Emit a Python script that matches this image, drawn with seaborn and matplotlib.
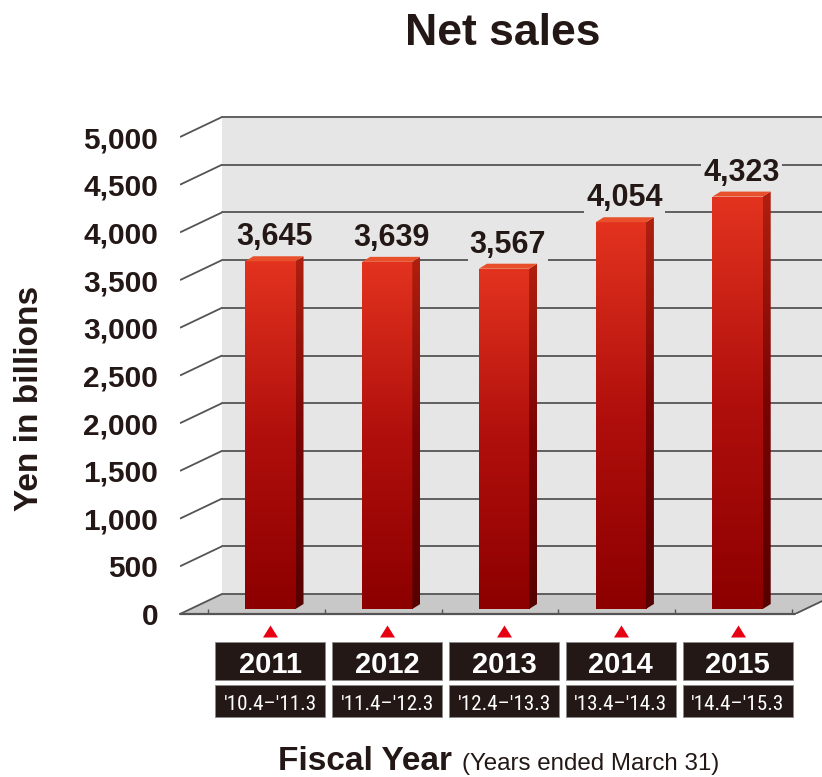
import numpy as np
import pandas as pd
import matplotlib
matplotlib.use("Agg")
import matplotlib.pyplot as plt
import matplotlib.transforms as mtransforms
from matplotlib import font_manager
from matplotlib.patches import Polygon, Rectangle
from matplotlib.colors import LinearSegmentedColormap
import seaborn as sns

# ---------------- data ----------------
years = ["2011", "2012", "2013", "2014", "2015"]
periods = ["'10.4–'11.3", "'11.4–'12.3", "'12.4–'13.3", "'13.4–'14.3", "'14.4–'15.3"]
net_sales = [3645, 3639, 3567, 4054, 4323]
y_ticks = [0, 500, 1000, 1500, 2000, 2500, 3000, 3500, 4000, 4500, 5000]
title_text = "Net sales"
ylabel_text = "Yen in billions"
xlabel_main = "Fiscal Year"
xlabel_sub = "(Years ended March 31)"

# ---------------- style ----------------
sns.set_theme(style="white")
plt.rcParams["font.family"] = ["Liberation Sans", "DejaVu Sans"]
TXT = "#231815"
WALL = "#e6e6e6"
FLOOR = "#c8c8c8"
LINE = "#555353"

names = {f.name for f in font_manager.fontManager.ttflist}
narrow = None
for cand in ["Liberation Sans Narrow", "Roboto Condensed", "Open Sans Condensed",
             "Noto Sans Condensed", "DejaVu Sans Condensed"]:
    if cand in names:
        narrow = cand
        break
period_family = [narrow, "Liberation Sans", "DejaVu Sans"] if narrow else ["Liberation Sans", "DejaVu Sans"]

W, H = 822, 777
fig = plt.figure(figsize=(W / 100, H / 100), dpi=100)
fig.patch.set_facecolor("white")


def fx(px):
    return px / W


def fy(py):
    return 1 - py / H


ax = fig.add_axes([fx(180), fy(614), fx(822) - fx(180), (614 - 90) / H])
ax.set_facecolor("none")

df = pd.DataFrame({"year": years, "sales": net_sales})
sns.barplot(data=df, x="year", y="sales", width=0.43, color="#c00000", ax=ax,
            saturation=1, zorder=3)

SX = 116.8
SY = (614 - 137) / 5000.0
XL = -0.5 - (208 - 180) / SX
XR = -0.5 + (822 - 208) / SX
XFR = -0.5 + (795 - 208) / SX
ax.set_xlim(XL, XR)
ax.set_ylim(0, (614 - 90) / SY)
ax.set_autoscale_on(False)


def d(px, py):
    return px / SX, py / SY


Dx, Dy = d(42, 20)
bx, by = d(4, 5)
ddx, ddy = d(8, 5)

ax.add_patch(Rectangle((XL + Dx, Dy), XR - (XL + Dx), y_ticks[-1], fc=WALL, ec="none", zorder=0))
ax.add_patch(Polygon([(XL, 0), (XFR, 0), (XFR + Dx, Dy), (XL + Dx, Dy)], closed=True,
                     fc=FLOOR, ec="none", zorder=0.5))
for v in y_ticks:
    ax.plot([XL, XL + Dx], [v, v + Dy], color=LINE, lw=1.3, zorder=1, solid_capstyle="butt")
    ax.plot([XL + Dx, XR], [v + Dy, v + Dy], color=LINE, lw=1.3, zorder=1)
ax.plot([XL, XFR], [0, 0], color=LINE, lw=1.6, zorder=1.5, clip_on=False)
ax.plot([XFR, XFR + Dx], [0, Dy], color=LINE, lw=1.3, zorder=1.5)

ax.set_xticks([])
ax.set_xticks(np.arange(-0.5, len(years), 1.0), minor=True)
ax.tick_params(axis="x", which="minor", direction="in", length=3.5, width=1, color=LINE, bottom=True)
ax.set_xlabel("")
ax.set_ylabel("")
for s in ax.spines.values():
    s.set_visible(False)

ax.set_yticks(y_ticks)
ax.set_yticklabels([f"{v:,}" for v in y_ticks], fontsize=21.5, fontweight="bold", color=TXT)
ax.tick_params(axis="y", length=0, pad=15.8)

front_cmap = LinearSegmentedColormap.from_list("front", ["#8c0000", "#b00f0c", "#e3331f"])
side_cmap = LinearSegmentedColormap.from_list("side", ["#560000", "#7a0404", "#b0200f"])
grad = np.linspace(0, 1, 256).reshape(-1, 1)

bars = [p for p in ax.patches if isinstance(p, Rectangle) and p.get_width() < 1][:len(years)]
for i, p in enumerate(bars):
    p.set_x(p.get_x() + bx)
    p.set_y(by)
    x0 = p.get_x()
    x1 = x0 + p.get_width()
    y0 = by
    y1 = by + p.get_height()
    p.set_facecolor("none")
    p.set_edgecolor("none")
    im = ax.imshow(grad, extent=(x0, x1, y0, y1), origin="lower", aspect="auto",
                   cmap=front_cmap, zorder=3, interpolation="bilinear")
    im.set_clip_path(p)
    side = Polygon([(x1, y0), (x1 + ddx, y0 + ddy), (x1 + ddx, y1 + ddy), (x1, y1)], closed=True,
                   fc="none", ec="none", zorder=3)
    ax.add_patch(side)
    im2 = ax.imshow(grad, extent=(x1, x1 + ddx, y0, y1 + ddy), origin="lower", aspect="auto",
                    cmap=side_cmap, zorder=3, interpolation="bilinear")
    im2.set_clip_path(side)
    ax.add_patch(Polygon([(x0, y1), (x1, y1), (x1 + ddx, y1 + ddy), (x0 + ddx, y1 + ddy)],
                         closed=True, fc="#e8502c", ec="none", zorder=3.2))
    ax.text((x0 + x1 + ddx) / 2, y1 + ddy + d(0, 11)[1], f"{net_sales[i]:,}",
            ha="center", va="baseline", fontsize=22, fontweight="bold", color=TXT, zorder=4,
            bbox=dict(fc=WALL, ec="none", pad=1.5))

blend = mtransforms.blended_transform_factory(ax.transData, fig.transFigure)
box_w = 110 / SX
xc = [i + bx for i in range(len(years))]
ax.scatter(xc, [fy(631)] * len(years), transform=blend, marker=[(-1, -0.8), (1, -0.8), (0, 0.8)],
           s=117, color="#e60012", linewidths=0, clip_on=False, zorder=5)
period_texts = []
for i, c in enumerate(xc):
    ax.add_patch(Rectangle((c - box_w / 2, fy(680)), box_w, (680 - 642) / H, transform=blend,
                           fc=TXT, ec="#8a8a8a", lw=0.6, clip_on=False, zorder=5))
    ax.add_patch(Rectangle((c - box_w / 2, fy(717)), box_w, (717 - 685) / H, transform=blend,
                           fc=TXT, ec="#8a8a8a", lw=0.6, clip_on=False, zorder=5))
    ax.text(c, fy(673), years[i], transform=blend, ha="center", va="baseline", color="white",
            fontsize=21, fontweight="bold", zorder=6, clip_on=False)
    t = ax.text(c, fy(710), periods[i], transform=blend, ha="center", va="baseline", color="white",
                fontsize=16, family=period_family, zorder=6, clip_on=False)
    period_texts.append(t)

renderer = fig.canvas.get_renderer()
for t in period_texts:
    fs = 16.0
    while fs > 8 and t.get_window_extent(renderer).width > 94:
        fs -= 0.25
        t.set_fontsize(fs)

fig.text(fx(503), fy(45), title_text, ha="center", va="baseline", fontsize=32,
         fontweight="bold", color=TXT)
fig.text(fx(30), fy(398), ylabel_text, ha="center", va="center", rotation=90, fontsize=24,
         fontweight="bold", color=TXT)
fig.text(fx(278), fy(770), xlabel_main, ha="left", va="baseline", fontsize=24,
         fontweight="bold", color=TXT)
fig.text(fx(462), fy(770), xlabel_sub, ha="left", va="baseline", fontsize=17.4, color=TXT)

fig.savefig("out.png", dpi=100, facecolor="white")
